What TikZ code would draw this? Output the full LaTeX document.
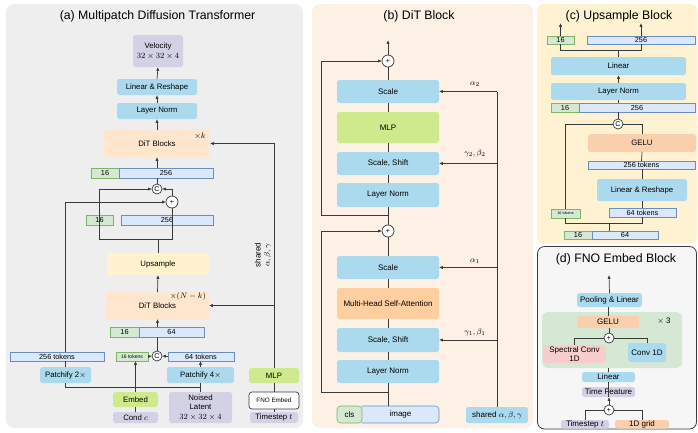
\documentclass[tikz,border=0pt]{standalone}
\usepackage{fontspec}
\setmainfont{Liberation Sans}
\usetikzlibrary{arrows.meta,calc}
\definecolor{bgA}{HTML}{EEEEEE}
\definecolor{bgB}{HTML}{FDF0E4}
\definecolor{bgC}{HTML}{FEF2D2}
\definecolor{bgD}{HTML}{F6F6F6}
\definecolor{cBlue}{HTML}{ABDAEE}
\definecolor{cLav}{HTML}{D3D1E6}
\definecolor{cPeach}{HTML}{FFE6CC}
\definecolor{cYel}{HTML}{FFF2CC}
\definecolor{cGreen}{HTML}{CFEA8D}
\definecolor{cOrange}{HTML}{FFCF9F}
\definecolor{cGelu}{HTML}{F9CFAE}
\definecolor{tokB}{HTML}{DAE8FC}
\definecolor{tokBd}{HTML}{6C8EBF}
\definecolor{tokG}{HTML}{D5E8D4}
\definecolor{tokGd}{HTML}{82B366}
\definecolor{cPink}{HTML}{F8CECC}
\definecolor{cRegion}{HTML}{D5E8D4}
\definecolor{lineC}{HTML}{3A3A3A}
\tikzset{
  base/.style={inner sep=0pt, outer sep=0pt, align=center, font=\fontsize{7.8}{9.6}\selectfont},
  rbox/.style={base, rounded corners=2.5pt},
  bluebox/.style={rbox, fill=cBlue},
  lavbox/.style={rbox, fill=cLav},
  peachbox/.style={rbox, fill=cPeach},
  yelbox/.style={rbox, fill=cYel},
  greenbox/.style={rbox, fill=cGreen},
  orangebox/.style={rbox, fill=cOrange},
  gelubox/.style={rbox, fill=cGelu},
  pinkbox/.style={rbox, fill=cPink},
  bfont/.style={font=\fontsize{8}{9.6}\selectfont},
  tokb/.style={base, fill=tokB, draw=tokBd, line width=0.6pt, font=\fontsize{7.3}{8}\selectfont},
  tokg/.style={base, fill=tokG, draw=tokGd, line width=0.6pt, font=\fontsize{7.3}{8}\selectfont},
  conn/.style={draw=lineC, line width=0.7pt},
  arr/.style={conn, -{Latex[length=3.8pt,width=3.2pt]}},
  opc/.style={circle, draw=lineC, fill=white, line width=0.7pt, inner sep=0pt, outer sep=0pt, font=\fontsize{7}{7}\selectfont},
  ttl/.style={font=\fontsize{12.3}{14}\selectfont, inner sep=0pt},
  lbl/.style={font=\fontsize{8}{9}\selectfont, inner sep=0pt},
}
\newcommand{\mkbox}[7]{%
  \node[#6, minimum width={#4-#2}, minimum height={#5-#3}] (#1) at ({(#2+#4)/2},{(#3+#5)/2}) {#7};}
\begin{document}
\begin{tikzpicture}[x=1pt,y=-1pt]
\useasboundingbox (0,0) rectangle (698,432);
% panels
\fill[bgA, rounded corners=8pt] (6,4) rectangle (303,428);
\fill[bgB, rounded corners=8pt] (312,4) rectangle (533,428);
\fill[bgC, rounded corners=6pt] (537,4) rectangle (697,243);
\filldraw[fill=bgD, draw=lineC, line width=0.8pt, rounded corners=7pt] (537.5,246.5) rectangle (696.5,429);
\node[ttl] (ta) at (157.5,16) {(a) Multipatch Diffusion Transformer};
\node[ttl] (tb) at (419,16) {(b) DiT Block};
\node[ttl] (tc) at (619,16) {(c) Upsample Block};
\node[ttl] (td) at (616,259) {(d) FNO Embed Block};

% ---------------- panel (a)
\mkbox{vel}{133}{35}{183}{67}{lavbox}{Velocity\\$32\times32\times4$}
\mkbox{lrA}{117}{79}{197}{95}{bluebox}{Linear \& Reshape}
\mkbox{lnA}{117}{103}{197}{119}{bluebox}{Layer Norm}
\mkbox{ditT}{104}{130}{210}{157}{peachbox}{DiT Blocks}
\node[lbl] (xk) at (200,136) {$\times k$};
\mkbox{ga1}{91}{168}{119}{178}{tokg}{16}
\mkbox{ba1}{119}{168}{213}{178}{tokb}{256}
\mkbox{ga2}{86}{215}{113}{225}{tokg}{16}
\mkbox{ba2}{121}{215}{213}{225}{tokb}{256}
\node[opc, minimum size=10pt] (c1) at (157,189) {C};
\node[opc, minimum size=12pt] (p1) at (172,202) {+};
\mkbox{upA}{107}{253}{209}{275}{yelbox}{Upsample}
\mkbox{ditL}{106}{292}{209}{319}{peachbox}{DiT Blocks}
\node[lbl] (xnk) at (188,296) {$\times(N-k)$};
\mkbox{ga3}{110}{327}{139}{337}{tokg}{16}
\mkbox{ba3}{139}{327}{204}{337}{tokb}{64}
\node[opc, minimum size=10pt] (c2) at (157,356) {C};
\mkbox{t256}{10}{352}{104}{361}{tokb}{256 tokens}
\mkbox{t16}{116}{352}{148}{361}{tokg, font=\fontsize{5}{5}\selectfont}{16 tokens}
\mkbox{t64}{168}{352}{234}{361}{tokb}{64 tokens}
\mkbox{p2}{40}{367}{91}{383}{bluebox}{Patchify 2$\times$}
\mkbox{p4}{167}{367}{234}{383}{bluebox}{Patchify 4$\times$}
\mkbox{emb}{113}{392}{158}{407}{greenbox}{Embed}
\mkbox{cond}{113}{412}{158}{423}{lavbox}{Cond $c$}
\mkbox{lat}{169}{392}{232}{423}{lavbox}{Noised\\Latent\\$32\times32\times4$}
\mkbox{mlpA}{249}{368}{299}{383}{greenbox}{MLP}
\mkbox{fno}{249}{392}{299}{409}{base, rounded corners=3pt, fill=white, draw=lineC, line width=0.7pt, font=\fontsize{6.3}{7}\selectfont}{FNO Embed}
\mkbox{tsA}{250}{412}{298}{423}{lavbox}{Timestep $t$}
\coordinate (ja1) at (99,239);
\coordinate (ja2) at (172,239);
\coordinate (lx) at (65,387);
\node[lbl, rotate=90, align=center] (shl) at (263,255) {shared\\$\alpha,\beta,\gamma$};

\draw[arr] (lrA.north) -- (vel.south);
\draw[arr] (lnA.north) -- (lrA.south);
\draw[arr] (ditT.north) -- (lnA.south);
\draw[arr] (ditT.south |- ba1.north) -- (ditT.south);
\draw[conn] (c1.north) -- (c1.north |- ba1.south);
\draw[arr] (p1.north) |- (c1.east);
\draw[arr] (ja1) |- (c1.west);
\draw[conn] (upA.north) -- (upA.north |- ja1);
\draw[conn] (ja1) -- (ja2) -- (p1.south);
\draw[arr] (t256.north -| lx) |- (p1.west);
\draw[arr] (ditL.north) -- (upA.south);
\draw[arr] (ditL.south |- ba3.north) -- (ditL.south);
\draw[conn] (c2.north) -- (c2.north |- ba3.south);
\draw[arr] (t16.east) -- (c2.west);
\draw[arr] (t64.west) -- (c2.east);
\draw[arr] (p4.north) -- (p4.north |- t64.south);
\draw[conn] (lat.north) -- (p4.south);
\draw[conn] (lat.north |- lx) -- (lx) -- (p2.south -| lx);
\draw[conn] (p2.north -| lx) -- (t256.south -| lx);
\draw[arr] (emb.north) -- (emb.north |- t16.south);
\draw[conn] (cond.north) -- (emb.south);
\draw[arr] (mlpA.north) |- (ditT.east);
\draw[arr] (mlpA.north |- ditL.east) -- (ditL.east);
\draw[conn] (fno.north) -- (mlpA.south);
\draw[conn] (tsA.north) -- (fno.south);

% ---------------- panel (b)
\mkbox{scB2}{337}{80}{439}{103}{bluebox, bfont}{Scale}
\mkbox{mlpB}{337}{112}{439}{143}{greenbox, bfont}{MLP}
\mkbox{ssB2}{337}{152}{439}{175}{bluebox, bfont}{Scale, Shift}
\mkbox{lnB2}{337}{183}{439}{207}{bluebox, bfont}{Layer Norm}
\mkbox{scB1}{337}{256}{439}{279}{bluebox, bfont}{Scale}
\mkbox{mha}{337}{288}{439}{319}{orangebox, bfont}{Multi-Head Self-Attention}
\mkbox{ssB1}{337}{328}{439}{352}{bluebox, bfont}{Scale, Shift}
\mkbox{lnB1}{337}{360}{439}{383}{bluebox, bfont}{Layer Norm}
% cls | image bar: one rounded bar, green left part, blue right part
\fill[tokB, rounded corners=3.5pt] (362,406) -- (439,406) -- (439,423) -- (362,423);
\draw[tokBd, line width=0.6pt, rounded corners=3.5pt] (362,406) -- (439,406) -- (439,423) -- (362,423);
\fill[tokG, rounded corners=3.5pt] (362,406) -- (337,406) -- (337,423) -- (362,423);
\draw[tokGd, line width=0.6pt, rounded corners=3.5pt] (362,406) -- (337,406) -- (337,423) -- (362,423) -- cycle;
\mkbox{cls}{337}{406}{362}{423}{base, bfont}{cls}
\mkbox{img}{362}{406}{439}{423}{base, bfont}{image}
\mkbox{shB}{466}{407}{528}{423}{bluebox, bfont}{shared $\alpha,\beta,\gamma$}
\node[opc, minimum size=12pt] (pb2) at (388,61) {+};
\node[opc, minimum size=12pt] (pb1) at (388,231) {+};
\coordinate (bout) at (388,40);
\coordinate (jb2) at (388,215);
\coordinate (lb2) at (321,215);
\coordinate (jb1) at (388,392);
\coordinate (lb1) at (321,392);
\draw[arr] (pb2.north) -- (bout);
\draw[conn] (scB2.north) -- (pb2.south);
\draw[conn] (mlpB.north) -- (scB2.south);
\draw[conn] (ssB2.north) -- (mlpB.south);
\draw[conn] (lnB2.north) -- (ssB2.south);
\draw[conn] (pb1.north) -- (lnB2.south);
\draw[arr] (jb2) -- (lb2) |- (pb2.west);
\draw[conn] (scB1.north) -- (pb1.south);
\draw[conn] (mha.north) -- (scB1.south);
\draw[conn] (ssB1.north) -- (mha.south);
\draw[conn] (lnB1.north) -- (ssB1.south);
\draw[conn] (lnB1.south |- img.north) -- (lnB1.south);
\draw[arr] (jb1) -- (lb1) |- (pb1.west);
\draw[conn] (shB.north) -- (shB.north |- scB2.east);
\draw[arr] (shB.north |- scB2.east) -- (scB2.east);
\draw[arr] (shB.north |- ssB2.east) -- (ssB2.east);
\draw[arr] (shB.north |- scB1.east) -- (scB1.east);
\draw[arr] (shB.north |- ssB1.east) -- (ssB1.east);
\node[lbl] (la2) at (475,84) {$\alpha_2$};
\node[lbl] (lg2) at (475,153) {$\gamma_2,\beta_2$};
\node[lbl] (la1) at (475,261) {$\alpha_1$};
\node[lbl] (lg1) at (475,332) {$\gamma_1,\beta_1$};

% ---------------- panel (c)
\mkbox{gc1}{547}{36}{574}{44}{tokg}{16}
\mkbox{bc1}{587}{36}{695}{44}{tokb}{256}
\mkbox{linC}{551}{57}{686}{75}{bluebox}{Linear}
\mkbox{lnC}{551}{83}{686}{100}{bluebox}{Layer Norm}
\mkbox{gc2}{551}{103}{579}{112}{tokg}{16}
\mkbox{bc2}{579}{103}{695}{112}{tokb}{256}
\node[opc, minimum size=10pt] (cc) at (618,124) {C};
\mkbox{geluC}{588}{134}{696}{152}{gelubox}{GELU}
\mkbox{t256c}{588}{161}{695}{169}{tokb}{256 tokens}
\mkbox{lrC}{597}{179}{687}{201}{bluebox}{Linear \& Reshape}
\mkbox{t64c}{609}{208}{676}{217}{tokb}{64 tokens}
\mkbox{t16c}{551}{209}{580}{218}{tokg, font=\fontsize{3.8}{4}\selectfont}{16 tokens}
\mkbox{gc3}{564}{231}{592}{239}{tokg}{16}
\mkbox{bc3}{592}{231}{658}{239}{tokb}{64}
\coordinate (co1) at (560.5,23);
\coordinate (co2) at (641,23);
\coordinate (jc) at (618.5,50);
\coordinate (jc2) at (609,223);
\draw[arr] (gc1.north) -- (co1);
\draw[arr] (bc1.north) -- (co2);
\draw[conn] (gc1.south) |- (jc);
\draw[conn] (bc1.south) |- (jc);
\draw[conn] (jc) -- (linC.north);
\draw[arr] (lnC.north) -- (linC.south);
\draw[conn] (lnC.south) -- (lnC.south |- bc2.north);
\draw[conn] (cc.north) -- (cc.north |- bc2.south);
\draw[conn] (cc.west) -| (t16c.north);
\draw[conn] (cc.east) -| (geluC.north);
\draw[conn] (t256c.north) -- (geluC.south);
\draw[conn] (lrC.north) -- (lrC.north |- t256c.south);
\draw[conn] (t64c.north -| lrC.south) -- (lrC.south);
\draw[conn] (jc2 |- bc3.north) -- (jc2);
\draw[conn] (t16c.south) |- (jc2);
\draw[conn] (t64c.south -| lrC.south) |- (jc2);

% ---------------- panel (d)
\mkbox{gd}{542}{312}{682}{368}{rbox, rounded corners=5pt, fill=cRegion}{}
\mkbox{pool}{577}{293}{642}{307}{bluebox, bfont}{Pooling \& Linear}
\mkbox{geluD}{577}{316}{639}{328}{gelubox, bfont}{GELU}
\node[lbl] (x3) at (664,321) {$\times$ 3};
\node[opc, minimum size=10pt] (pd) at (609,338) {+};
\mkbox{spec}{543}{345}{606}{363}{pinkbox, bfont, font=\fontsize{8}{8.5}\selectfont}{Spectral Conv\\1D}
\mkbox{conv}{628}{343}{666}{362}{bluebox, bfont}{Conv 1D}
\mkbox{linD}{582}{372}{635}{382}{bluebox, bfont}{Linear}
\mkbox{tf}{582}{387}{635}{397}{lavbox, bfont}{Time Feature}
\node[opc, minimum size=10pt] (pd2) at (609,410) {+};
\mkbox{tsD}{561}{420}{609}{428.5}{lavbox, bfont}{Timestep $t$}
\mkbox{grid}{615}{420}{669}{428.5}{gelubox, bfont}{1D grid}
\coordinate (dout) at (609,275);
\draw[arr] (pool.north) -- (dout);
\draw[conn] (geluD.north) -- (geluD.north |- pool.south);
\draw[conn] (pd.north) -- (pd.north |- geluD.south);
\draw[conn] (pd.west) -| (spec.north);
\draw[conn] (pd.east) -| (conv.north);
\draw[conn] (linD.north) -- (linD.north |- gd.south);
\draw[conn] (tf.south) -- (tf.south |- linD.south);
\draw[arr] (pd2.north) -- (pd2.north |- tf.south);
\draw[conn] (pd2.west) -| (tsD.north);
\draw[conn] (pd2.east) -| (grid.north);
\end{tikzpicture}
\end{document}
